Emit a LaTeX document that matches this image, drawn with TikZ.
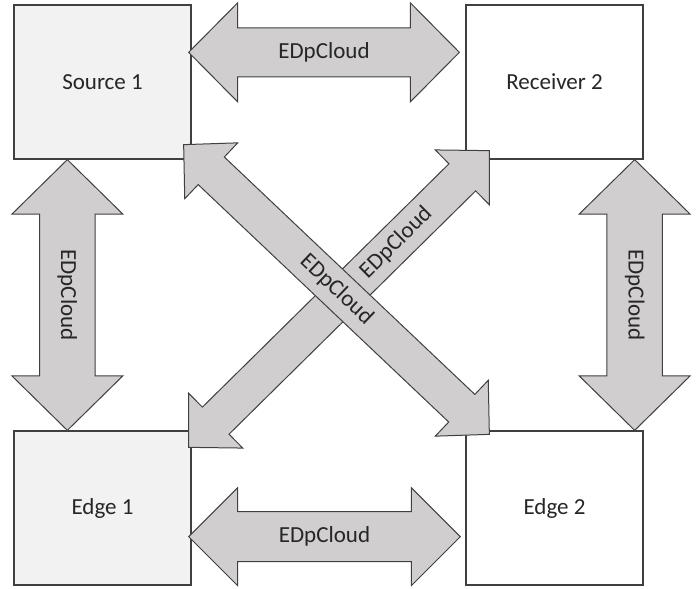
\documentclass[tikz,border=0pt]{standalone}
\usepackage{fontspec}
\setmainfont{Carlito}
\usetikzlibrary{calc}

\definecolor{boxgray}{HTML}{F2F2F2}
\definecolor{linkgray}{HTML}{D0CECE}
\definecolor{edgegray}{HTML}{404040}

\tikzset{
  unit/.style={draw=edgegray, line width=0.65pt, minimum width=88.5pt, minimum height=77pt, inner sep=0pt, text=black!85},
  link/.style={draw=edgegray, line width=0.5pt, fill=linkgray, line join=miter},
}

% fat double arrow: from, to, half shaft, half head, head length, label pos
\newcommand{\cloudlink}[6]{%
  \coordinate (#1h) at ($(#1)!#5!(#2)$);
  \coordinate (#2h) at ($(#2)!#5!(#1)$);
  \draw[link] (#1) -- ($(#1h)!#4!90:(#2)$) -- ($(#1h)!#3!90:(#2)$)
    -- ($(#2h)!#3!90:(#2)$) -- ($(#2h)!#4!90:(#2)$) -- (#2)
    -- ($(#2h)!#4!-90:(#2)$) -- ($(#2h)!#3!-90:(#2)$)
    -- ($(#1h)!#3!-90:(#2)$) -- ($(#1h)!#4!-90:(#2)$) -- cycle;
  \path (#1) -- node[pos=#6, sloped, allow upside down, text=black!85] (#1lbl) {EDpCloud} (#2);
}

\begin{document}
\begin{tikzpicture}[x=0.5pt, y=-0.5pt, font=\fontsize{11.5}{14}\selectfont]
\useasboundingbox (0,0) rectangle (699,588);

\node[unit, fill=boxgray] (src) at (102.5,82) {Source 1};
\node[unit, fill=white] (rcv) at (554.5,82) {Receiver 2};
\node[unit, fill=boxgray] (edg1) at (102.5,508) {Edge 1};
\node[unit, fill=white] (edg2) at (554.5,508) {Edge 2};

% arrow ends
\coordinate (ta) at ($(src.north east)+(-3,48)$);
\coordinate (tb) at ($(rcv.north west)+(-6,48)$);
\coordinate (ba) at ($(edg1.south east)+(-3,-49)$);
\coordinate (bb) at ($(edg2.south west)+(-5,-49)$);
\coordinate (la) at ($(src.south west)+(54,0)$);
\coordinate (lb) at ($(edg1.north west)+(54,0)$);
\coordinate (ra) at ($(rcv.south east)+(-9,0)$);
\coordinate (rb) at ($(edg2.north east)+(-9,0)$);
\coordinate (da) at ($(src.south east)+(-8,-15)$);
\coordinate (db) at ($(edg2.north west)+(24,4)$);
\coordinate (ua) at ($(edg1.north east)+(-3,17)$);
\coordinate (ub) at ($(rcv.south west)+(24,-9)$);

\cloudlink{ta}{tb}{12.25pt}{24.75pt}{24.5pt}{0.5}
\cloudlink{ba}{bb}{12.5pt}{24.5pt}{24.5pt}{0.5}
\cloudlink{la}{lb}{13.9pt}{27.75pt}{27.25pt}{0.5}
\cloudlink{ra}{rb}{13.9pt}{27.75pt}{27.25pt}{0.5}
\cloudlink{ua}{ub}{9.5pt}{19.25pt}{19pt}{0.69}
\cloudlink{da}{db}{9.5pt}{19.25pt}{19pt}{0.5}

\end{tikzpicture}
\end{document}
